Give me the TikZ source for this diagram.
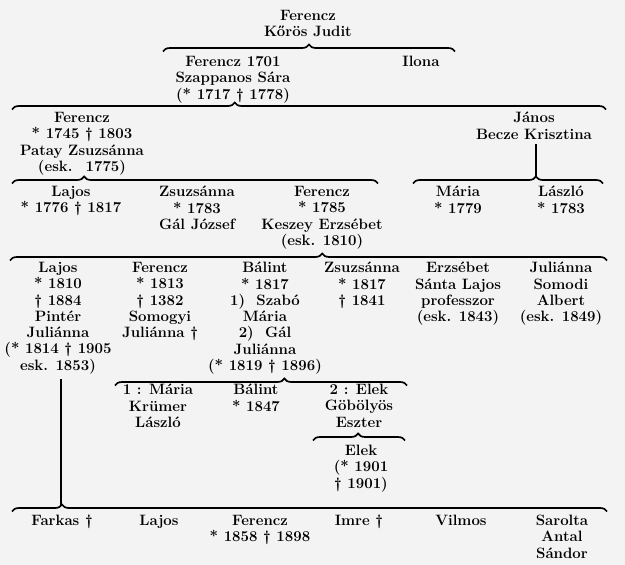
\documentclass[tikz,border=0pt]{standalone}
\usepackage{fontspec}
\usetikzlibrary{decorations.pathreplacing}

\definecolor{paper}{HTML}{F3F3F3}
\newcommand{\genfont}{\fontsize{15}{16.3}\selectfont\bfseries}

\begin{document}
\begin{tikzpicture}[
  x=1pt, y=-1pt,
  person/.style={align=center, anchor=north, inner sep=0pt, font=\genfont},
  kin/.style={decorate, decoration={brace, amplitude=7pt, aspect=#1}, line width=1.7pt},
  stem/.style={line width=2pt}
]
  \fill[paper] (0,0) rectangle (625,565);
  \useasboundingbox (0,0) rectangle (625,565);

  % generation 1 and 2
  \node[person] (gp) at (308,10) {Ferencz\\Kőrös Judit};
  \node[person] (f1701) at (233,56) {Ferencz 1701\\Szappanos Sára\\(* 1717 † 1778)};
  \node[person] (ilona) at (421,56) {Ilona};
  \coordinate (b1l) at (163,51.5); \coordinate (b1r) at (455,51.5);
  \draw[kin=0.5] (b1l) -- (b1r);

  % generation 3
  \node[person] (f1745) at (82,112) {Ferencz\\* 1745 † 1803\\Patay Zsuzsánna\\(esk.~ 1775)};
  \node[person] (janos) at (534,112) {János\\Becze Krisztina};
  \coordinate (b2l) at (12,109.5); \coordinate (b2r) at (606,109.5);
  \draw[kin=0.375] (b2l) -- (b2r);

  % generation 4
  \node[person] (lajos1776) at (71,186) {Lajos\\* 1776 † 1817};
  \node[person] (zsuzsa1783) at (197,186) {Zsuzsánna\\* 1783\\Gál József};
  \node[person] (f1785) at (322,186) {Ferencz\\* 1785\\Keszey Erzsébet\\(esk. 1810)};
  \node[person] (maria1779) at (458,186) {Mária\\* 1779};
  \node[person] (laszlo1783) at (561,186) {László\\* 1783};
  \coordinate (b3l) at (12,183.5); \coordinate (b3r) at (378,183.5);
  \draw[kin=0.197] (b3l) -- (b3r);
  \coordinate (b4l) at (413,183.5); \coordinate (b4r) at (603,183.5);
  \coordinate (b4tip) at (536,176.5);
  \draw[kin=0.647] (b4l) -- (b4r);
  \draw[stem, shorten <=5pt] (janos.south -| b4tip) -- (b4tip);

  % generation 5
  \node[person] (lajos1810) at (58,262) {Lajos\\* 1810\\† 1884\\Pintér\\Juliánna\\(* 1814 † 1905\\esk. 1853)};
  \node[person] (f1813) at (160,262) {Ferencz\\* 1813\\† 1382\\Somogyi\\Juliánna †};
  \node[person] (balint1817) at (265,262) {Bálint\\* 1817\\1)~ Szabó\\Mária\\2)~ Gál\\Juliánna\\(* 1819 † 1896)};
  \node[person] (zsuzsa1817) at (362,262) {Zsuzsánna\\* 1817\\† 1841};
  \node[person] (erzsebet) at (458,262) {Erzsébet\\Sánta Lajos\\professzor\\(esk. 1843)};
  \node[person] (juliana) at (561,262) {Juliánna\\Somodi\\Albert\\(esk. 1849)};
  \coordinate (b5l) at (10,260.5); \coordinate (b5r) at (607,260.5);
  \draw[kin=0.523] (b5l) -- (b5r);

  % children of Balint
  \node[person] (maria1) at (158,384) {1 : Mária\\Krümer\\László};
  \node[person] (balint1847) at (256,384) {Bálint\\* 1847};
  \node[person] (elek2) at (359,384) {2 : Elek\\Göbölyös\\Eszter};
  \coordinate (b6l) at (115,385.5); \coordinate (b6r) at (407,385.5);
  \draw[kin=0.58] (b6l) -- (b6r);
  \node[person] (elek1901) at (361,445) {Elek\\(* 1901\\† 1901)};
  \coordinate (b7l) at (313,440.5); \coordinate (b7r) at (405,440.5);
  \draw[kin=0.49] (b7l) -- (b7r);

  % children of Lajos
  \node[person] (farkas) at (62,515) {Farkas †};
  \node[person] (lajosB) at (159,515) {Lajos};
  \node[person] (ferenczB) at (260,515) {Ferencz\\* 1858 † 1898};
  \node[person] (imre) at (359,515) {Imre †};
  \node[person] (vilmos) at (461,515) {Vilmos};
  \node[person] (sarolta) at (562,515) {Sarolta\\Antal\\Sándor};
  \coordinate (b8l) at (12,511.5); \coordinate (b8r) at (607,511.5);
  \coordinate (b8tip) at (61,504.5);
  \draw[kin=0.084] (b8l) -- (b8r);
  \draw[stem, shorten <=5pt] (lajos1810.south -| b8tip) -- (b8tip);
\end{tikzpicture}
\end{document}
